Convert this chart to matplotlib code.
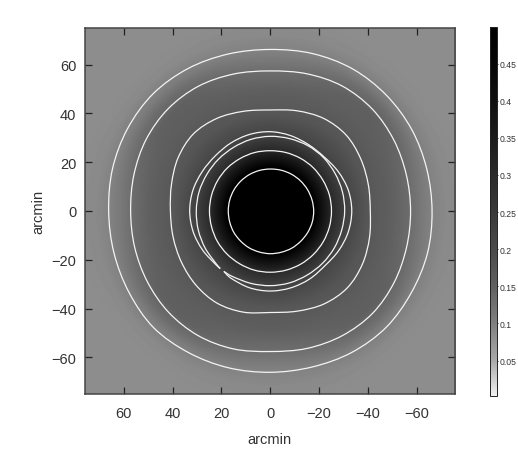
import matplotlib
matplotlib.use("Agg")
import matplotlib.pyplot as plt
from matplotlib.colors import LinearSegmentedColormap, Normalize
from matplotlib.path import Path
from matplotlib.patches import PathPatch
import numpy as np

plt.rcParams['font.family'] = ['Liberation Sans', 'DejaVu Sans']

# colour bar: value -> grey level
bar_values = [0.003, 0.05, 0.1, 0.15, 0.2, 0.25, 0.3, 0.35, 0.4, 0.45, 0.5]
bar_greys = [240, 168, 128, 96, 74, 56, 42, 28, 16, 6, 0]
bar_ticks = [0.05, 0.1, 0.15, 0.2, 0.25, 0.3, 0.35, 0.4, 0.45]
bar_labels = ["0.05", "0.1", "0.15", "0.2", "0.25", "0.3", "0.35", "0.4", "0.45"]

# brightness profile, along the axes and along the diagonals
profile_r = [0, 17, 20, 25, 30, 33, 40, 50, 57, 62, 66, 72, 80, 90, 110]
profile_axis = [0.7, 0.52, 0.42, 0.30, 0.23, 0.205, 0.17, 0.15, 0.13, 0.11, 0.097, 0.088, 0.085, 0.085, 0.085]
profile_diag = [0.7, 0.52, 0.42, 0.30, 0.23, 0.205, 0.175, 0.155, 0.15, 0.13, 0.105, 0.088, 0.083, 0.083, 0.085]

# contour radii (arcmin) every 15 degrees, counted anticlockwise on the page
angles = np.arange(0, 360, 15)
r_outer = [66.3, 66.4, 66.9, 67.2, 67.3, 66.8, 66.2, 66.6, 67.4, 67.9, 67.5, 66.9,
           66.2, 66.3, 66.8, 67.6, 67.0, 66.5, 66.1, 66.2, 66.9, 67.3, 66.8, 66.7]
r_second = [57.5, 57.7, 58.4, 59.1, 59.1, 58.2, 57.4, 58.1, 59.0, 59.2, 58.7, 57.8,
            57.2, 57.5, 58.1, 58.8, 59.0, 58.5, 57.6, 58.3, 59.0, 59.3, 58.6, 57.8]
r_third = [41.0, 41.6, 42.8, 44.0, 43.8, 42.5, 41.4, 42.3, 43.8, 44.6, 43.6, 41.9,
           40.9, 41.2, 42.0, 43.0, 43.6, 42.9, 41.6, 42.5, 44.0, 44.6, 43.6, 42.1]
r_25 = [25.1, 25.1, 25.0, 25.0, 24.9, 24.8, 24.7, 24.8, 24.8, 24.9, 24.9, 24.9,
        24.9, 24.9, 25.0, 25.0, 25.0, 25.1, 25.1, 25.1, 25.1, 25.1, 25.1, 25.1]
r_17 = [17.8, 17.7, 17.6, 17.5, 17.4, 17.3, 17.2, 17.2, 17.2, 17.2, 17.2, 17.2,
        17.2, 17.2, 17.3, 17.3, 17.4, 17.4, 17.5, 17.5, 17.6, 17.6, 17.7, 17.8]

# the two open arcs meeting at the gap lower left
arc_angles = [-127.5, -120, -105, -90, -75, -60, -45, -30, -15, 0, 15, 30, 45, 60, 75,
              90, 105, 120, 135, 150, 165, 180, 195, 210, 225, 229]
arc_a = [31.2, 31.9, 32.6, 32.8, 32.6, 32.2, 31.7, 32.4, 33.1, 33.4, 33.1, 32.2, 31.3,
         31.4, 32.0, 32.5, 32.5, 32.2, 31.9, 32.2, 32.8, 33.0, 32.7, 32.0, 31.3, 31.2]
arc_b = [31.2, 31.0, 30.7, 30.6, 30.5, 30.3, 30.3, 30.3, 30.3, 30.5, 30.6, 30.7, 30.9,
         30.9, 30.7, 30.6, 30.4, 30.1, 30.0, 30.0, 30.2, 30.3, 30.5, 30.7, 31.0, 31.2]

ticks = [-60, -40, -20, 0, 20, 40, 60]
tick_labels = ["\u221260", "\u221240", "\u221220", "0", "20", "40", "60"]
axis_grey = "#444444"
text_grey = "#333333"


def to_xy(ang, rad):
    # x runs right to left on this chart
    t = np.radians(ang)
    return -np.array(rad) * np.cos(t), np.array(rad) * np.sin(t)


def curve_through(ax, x, y, closed):
    # smooth bezier path through the read points
    pts = np.column_stack([x, y])
    n = len(pts)
    verts = [pts[0]]
    for i in range(n if closed else n - 1):
        if closed:
            p0, p1, p2, p3 = pts[(i - 1) % n], pts[i], pts[(i + 1) % n], pts[(i + 2) % n]
        else:
            p0, p1, p2, p3 = pts[max(i - 1, 0)], pts[i], pts[i + 1], pts[min(i + 2, n - 1)]
        verts += [p1 + (p2 - p0) / 6, p2 - (p3 - p1) / 6, p2]
    codes = [Path.MOVETO] + [Path.CURVE4] * (len(verts) - 1)
    ax.add_patch(PathPatch(Path(verts, codes), fill=False, edgecolor="#f4f4f4", lw=0.9))


fig = plt.figure(figsize=(5.18, 4.6), dpi=100)
ax = fig.add_axes([84.5 / 518, 65 / 460, 370.5 / 518, 366.5 / 460])
cax = fig.add_axes([489.7 / 518, 63.5 / 460, 7 / 518, 369 / 460])

# build the image from the two read profiles
gx, gy = np.meshgrid(np.linspace(76.1, -75.7, 400), np.linspace(75.2, -75, 400))
rr = np.hypot(gx, gy)
blend = np.sin(2 * np.arctan2(gy, gx)) ** 2
field = (1 - blend) * np.interp(rr, profile_r, profile_axis) + blend * np.interp(rr, profile_r, profile_diag)

stops = [(v - bar_values[0]) / (bar_values[-1] - bar_values[0]) for v in bar_values]
grey_map = LinearSegmentedColormap.from_list(
    "bar", [(s, (g / 255, g / 255, g / 255)) for s, g in zip(stops, bar_greys)])
norm = Normalize(bar_values[0], bar_values[-1])

im = ax.imshow(field, extent=[76.1, -75.7, -75, 75.2], cmap=grey_map, norm=norm,
               aspect="auto", interpolation="bilinear")

for rad in [r_outer, r_second, r_third, r_25, r_17]:
    x, y = to_xy(angles, rad)
    curve_through(ax, x, y, True)
for rad in [arc_a, arc_b]:
    x, y = to_xy(arc_angles, rad)
    curve_through(ax, x, y, False)

ax.set_xlim(76.1, -75.7)
ax.set_ylim(-75, 75.2)
ax.set_xticks(ticks, tick_labels)
ax.set_yticks(ticks, tick_labels)
ax.tick_params(direction="in", length=5, width=0.9, color="#222222", labelsize=10.5,
               labelcolor=text_grey, top=True, right=True)
ax.tick_params(axis="x", pad=9)
ax.tick_params(axis="y", pad=6)
ax.set_xlabel("arcmin", fontsize=10.5, color=text_grey, labelpad=8)
ax.set_ylabel("arcmin", fontsize=10.5, color=text_grey, labelpad=4)
for s in ax.spines.values():
    s.set_linewidth(1.1)
    s.set_color(axis_grey)

cb = fig.colorbar(im, cax=cax)
cb.set_ticks(bar_ticks, labels=bar_labels)
cax.tick_params(direction="out", length=1, width=0.6, labelsize=6.2, pad=1, labelcolor=text_grey)
cb.outline.set_linewidth(0.7)
cb.outline.set_edgecolor("#222222")

fig.savefig("out.png", dpi=100)
